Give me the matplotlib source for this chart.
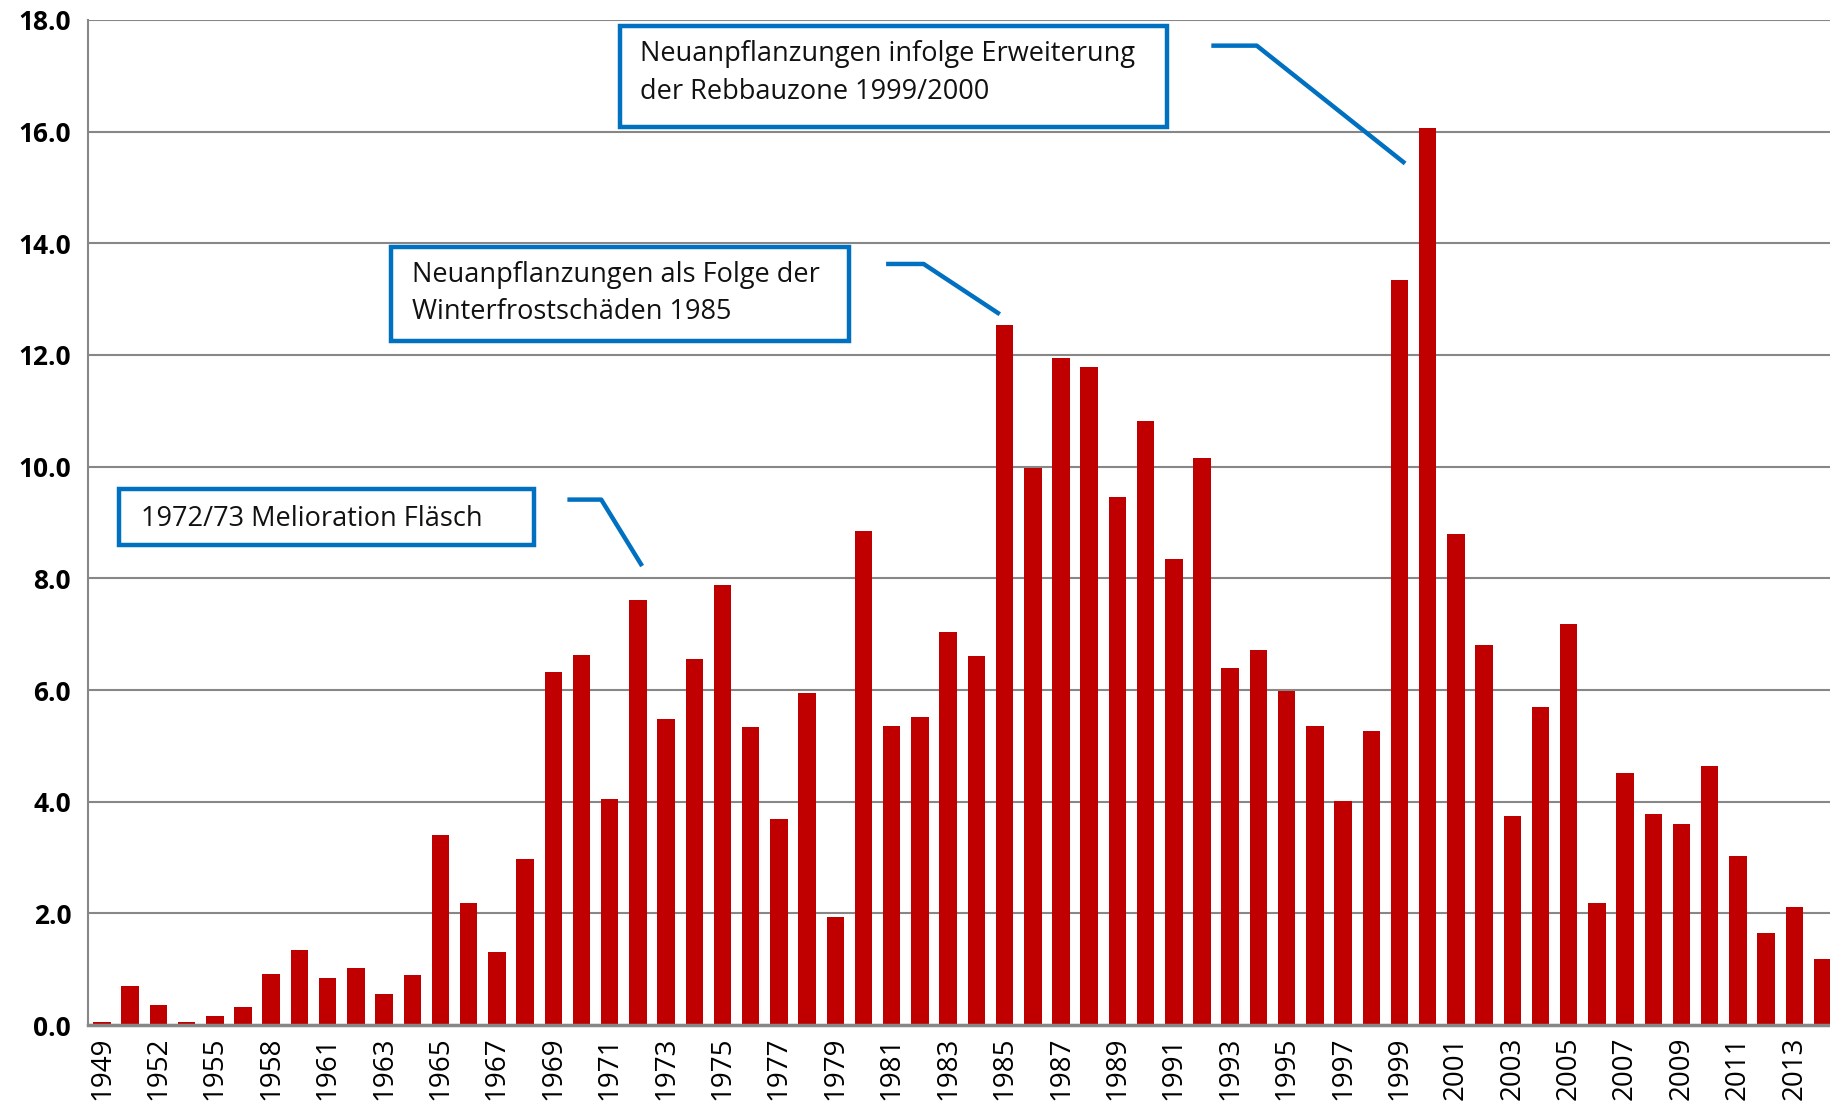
import matplotlib.pyplot as plt
from matplotlib.patches import Rectangle

plt.rcParams['font.family'] = ['Open Sans', 'DejaVu Sans']

# Kategorien (fruehe Jahre teils zusammengefasst), nur jede zweite wird beschriftet
years = ['1949', '1950/51', '1952', '1953/54', '1955', '1956/57', '1958', '1959/60'] + \
        [str(y) for y in range(1961, 2015)]

values = [0.05, 0.69, 0.36, 0.05, 0.17, 0.33, 0.91, 1.35,
          0.84, 1.03, 0.56, 0.90, 3.40, 2.18, 1.30, 2.98, 6.32, 6.63,
          4.05, 7.61, 5.48, 6.55, 7.88, 5.33, 3.69, 5.95, 1.94, 8.85,
          5.36, 5.52, 7.03, 6.61, 12.54, 9.98, 11.94, 11.79, 9.45, 10.82,
          8.34, 10.15, 6.39, 6.72, 5.98, 5.36, 4.01, 5.26, 13.35, 16.06,
          8.79, 6.80, 3.75, 5.70, 7.18, 2.19, 4.51, 3.78, 3.60, 4.63,
          3.02, 1.64, 2.12, 1.18]

y_ticks = [0, 2, 4, 6, 8, 10, 12, 14, 16, 18]

# Hinweisboxen: Text, Box (x0, x1, y0, y1), Textanfang, Fuehrungslinie
notes = [
    ('1972/73 Melioration Fläsch', (0.62, 15.3, 8.59, 9.6), (1.37, 9.07),
     [(16.5, 9.41), (17.7, 9.41), (19.15, 8.22)]),
    ('Neuanpflanzungen als Folge der\nWinterfrostschäden 1985', (10.24, 26.5, 12.25, 13.94), (10.98, 13.1),
     [(27.8, 13.63), (29.13, 13.63), (31.83, 12.73)]),
    ('Neuanpflanzungen infolge Erweiterung\nder Rebbauzone 1999/2000', (18.36, 37.75, 16.08, 17.9), (19.06, 17.05),
     [(39.33, 17.54), (40.94, 17.54), (46.2, 15.43)]),
]

blue = '#0070C0'
red = '#C00000'
grey = '#878787'

fig = plt.figure(figsize=(18.31, 11.03), dpi=100)
ax = fig.add_axes([0.048, 0.0707, 0.952, 0.9112])

x = range(len(years))
ax.bar(x, values, width=0.62, color=red, zorder=3)

ax.set_ylim(0, 18)
ax.set_xlim(-0.5, 61.3)
ax.set_yticks(y_ticks)
ax.set_yticklabels([f'{v:.1f}' for v in y_ticks], fontsize=19, fontweight='bold')
ax.set_xticks(list(x)[::2])
ax.set_xticklabels(years[::2], rotation=90, fontsize=20)
ax.tick_params(length=0, pad=8)
ax.tick_params(axis='y', pad=12)

ax.yaxis.grid(True, color=grey, linewidth=1.5, zorder=0)
for side in ['top', 'right']:
    ax.spines[side].set_visible(False)
ax.spines['left'].set_color(grey)
ax.spines['left'].set_linewidth(1.5)
ax.spines['bottom'].set_color(grey)
ax.spines['bottom'].set_linewidth(2.5)
ax.spines['bottom'].set_zorder(4)

for text, (x0, x1, y0, y1), (tx, ty), line in notes:
    ax.add_patch(Rectangle((x0, y0), x1 - x0, y1 - y0, facecolor='white',
                           edgecolor=blue, linewidth=3.2, zorder=5))
    ax.text(tx, ty, text, fontsize=19.5, va='center', ha='left',
            linespacing=1.45, color='#111111', zorder=6)
    lx = [p[0] for p in line]
    ly = [p[1] for p in line]
    ax.plot(lx, ly, color=blue, linewidth=3.2, zorder=5, solid_capstyle='butt')

fig.savefig('out.png', dpi=100)
